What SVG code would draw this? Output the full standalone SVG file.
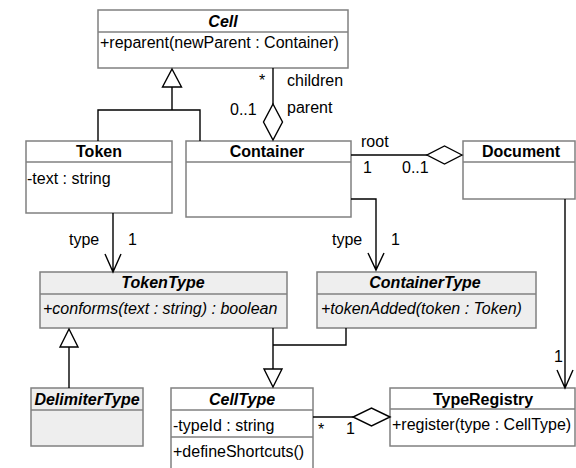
<svg xmlns="http://www.w3.org/2000/svg" width="576" height="468" viewBox="0 0 576 468">
  <style>
    text { font-family: "Liberation Sans", Arial, sans-serif; font-size: 16px; fill: #000; }
    .title { font-weight: bold; text-anchor: middle; }
    .abstract { font-weight: bold; font-style: italic; text-anchor: middle; }
    .op-abstract { font-style: italic; }
    .box { fill: #fff; stroke: #808080; stroke-width: 1.5; }
    .box.type { fill: #eeeeee; }
    .sep { stroke: #808080; stroke-width: 1.5; fill: none; }
    .edge { fill: none; stroke: #000; stroke-width: 1.4; }
    .hollow { fill: #fff; stroke: #000; stroke-width: 1.4; }
  </style>

  <rect width="576" height="468" fill="#fff"/>

  <!-- classes -->
  <g id="cell">
    <rect class="box" x="98" y="10" width="250" height="58"/>
    <line class="sep" x1="98" y1="32" x2="348" y2="32"/>
    <text class="abstract" x="223" y="27">Cell</text>
    <text x="100" y="48">+reparent(newParent : Container)</text>
  </g>

  <g id="token">
    <rect class="box" x="26" y="141" width="146" height="72"/>
    <line class="sep" x1="26" y1="162" x2="172" y2="162"/>
    <text class="title" x="99" y="157">Token</text>
    <text x="27" y="184">-text : string</text>
  </g>

  <g id="container">
    <rect class="box" x="186" y="141" width="165" height="76"/>
    <line class="sep" x1="186" y1="162" x2="351" y2="162"/>
    <text class="title" x="267" y="157">Container</text>
  </g>

  <g id="document">
    <rect class="box" x="463" y="141" width="112" height="58"/>
    <line class="sep" x1="463" y1="162" x2="575" y2="162"/>
    <text class="title" x="521" y="157">Document</text>
  </g>

  <g id="token-type">
    <rect class="box type" x="40" y="272" width="247" height="56"/>
    <line class="sep" x1="40" y1="294" x2="287" y2="294"/>
    <text class="abstract" x="163" y="288">TokenType</text>
    <text class="op-abstract" x="43" y="314">+conforms(text : string) : boolean</text>
  </g>

  <g id="container-type">
    <rect class="box type" x="317" y="272" width="219" height="56"/>
    <line class="sep" x1="317" y1="294" x2="536" y2="294"/>
    <text class="abstract" x="425" y="288">ContainerType</text>
    <text class="op-abstract" x="321" y="314">+tokenAdded(token : Token)</text>
  </g>

  <g id="delimiter-type">
    <rect class="box type" x="31" y="388" width="112" height="58"/>
    <line class="sep" x1="31" y1="410" x2="143" y2="410"/>
    <text class="abstract" x="87" y="405">DelimiterType</text>
  </g>

  <g id="cell-type">
    <rect class="box" x="171" y="388" width="142" height="90"/>
    <line class="sep" x1="171" y1="410" x2="313" y2="410"/>
    <line class="sep" x1="171" y1="437" x2="313" y2="437"/>
    <text class="abstract" x="242" y="405">CellType</text>
    <text x="173" y="431">-typeId : string</text>
    <text x="173" y="457">+defineShortcuts()</text>
  </g>

  <g id="type-registry">
    <rect class="box" x="390" y="388" width="185" height="58"/>
    <line class="sep" x1="390" y1="409" x2="575" y2="409"/>
    <text class="title" x="483" y="405">TypeRegistry</text>
    <text x="392" y="430">+register(type : CellType)</text>
  </g>

  <!-- relationships -->
  <g id="connectors">
    <!-- Token, Container generalize Cell -->
    <path class="edge" d="M98,141 V110 H200 V141 M172,110 V87"/>
    <path class="hollow" d="M172,69 L181.5,87 L162.5,87 Z"/>

    <!-- children / parent aggregation -->
    <path class="edge" d="M273,68 V104"/>
    <path class="hollow" d="M273,104 L282.5,122 L273,140 L263.5,122 Z"/>
    <text x="259" y="86">*</text>
    <text x="287" y="86">children</text>
    <text x="230" y="115">0..1</text>
    <text x="287" y="113">parent</text>

    <!-- root aggregation -->
    <path class="edge" d="M351,155 H427"/>
    <path class="hollow" d="M462,155 L444.5,146 L427,155 L444.5,164 Z"/>
    <text x="361" y="147">root</text>
    <text x="363" y="173">1</text>
    <text x="402" y="173">0..1</text>

    <!-- Token type -->
    <path class="edge" d="M113,213 V272 M105,254 L113,272 L121,254"/>
    <text x="69" y="245">type</text>
    <text x="128" y="245">1</text>

    <!-- Container type -->
    <path class="edge" d="M351,199 H376 V270 M368,253 L376,270 L384,253"/>
    <text x="332" y="245">type</text>
    <text x="391" y="245">1</text>

    <!-- Document to TypeRegistry -->
    <path class="edge" d="M565,199 V388 M557,370 L565,388 L573,370"/>
    <text x="554" y="362">1</text>

    <!-- DelimiterType generalizes TokenType -->
    <path class="edge" d="M69,388 V347"/>
    <path class="hollow" d="M69,329 L78,347 L60,347 Z"/>

    <!-- TokenType, ContainerType generalize CellType -->
    <path class="edge" d="M273,328 V369 M273,345 H346 V328"/>
    <path class="hollow" d="M273,387 L282,369 L264,369 Z"/>

    <!-- registry aggregation -->
    <path class="edge" d="M313,417 H353"/>
    <path class="hollow" d="M390,417 L371.5,408 L353,417 L371.5,426 Z"/>
    <text x="318" y="435">*</text>
    <text x="346" y="434">1</text>
  </g>
</svg>
